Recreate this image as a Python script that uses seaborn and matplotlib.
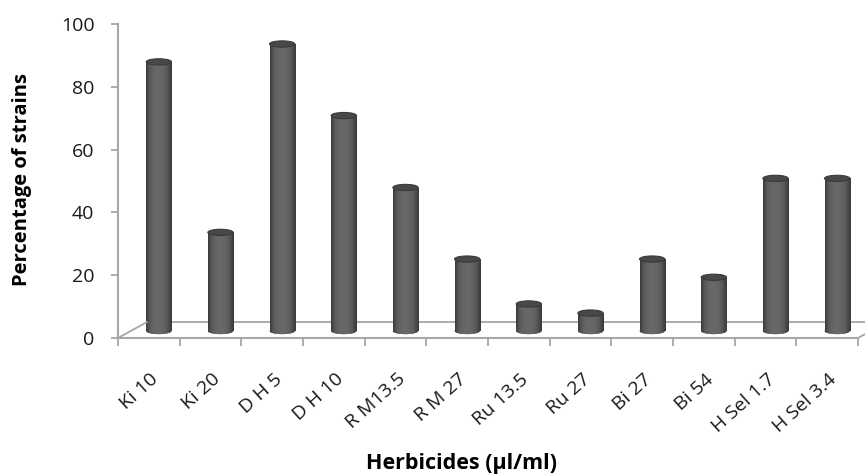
import numpy as np
import pandas as pd
import matplotlib
matplotlib.use("Agg")
import matplotlib.pyplot as plt
import matplotlib.transforms as mtransforms
from matplotlib.patches import Ellipse
import seaborn as sns

# Share of strains tolerant to each herbicide concentration
herbicides = ["Ki 10", "Ki 20", "D H 5", "D H 10", "R M13.5", "R M 27",
              "Ru 13.5", "Ru 27", "Bi 27", "Bi 54", "H Sel 1.7", "H Sel 3.4"]
percent_strains = [85.7, 31.4, 91.4, 68.6, 45.7, 22.9, 8.6, 5.7, 22.9, 17.1, 48.6, 48.6]
y_ticks = [0, 20, 40, 60, 80, 100]

df = pd.DataFrame({"herbicide": herbicides, "percent": percent_strains})

sns.set_theme(style="white")
plt.rcParams["font.family"] = ["Open Sans", "DejaVu Sans"]

W, H, DPI = 865, 474, 100
fig = plt.figure(figsize=(W / DPI, H / DPI), dpi=DPI)
fig.patch.set_facecolor("white")

# axes frame in pixel units (left, right, bottom-of-plot, top-of-plot)
x_left, x_right, y_zero, y_top = 118, 858, 338, 24
ax = fig.add_axes([x_left / W, (H - y_zero) / H,
                   (x_right - x_left) / W, (y_zero - y_top) / H])

sns.barplot(data=df, x="herbicide", y="percent", color="#5e5e5e",
            width=0.41, ax=ax, saturation=1)

axis_grey = "#a6a6a6"
# 3D pseudo-depth: columns sit halfway back on the floor
mid_depth = mtransforms.ScaledTranslation(10 / DPI, 7 / DPI, fig.dpi_scale_trans)
back = mtransforms.ScaledTranslation(29 / DPI, 16 / DPI, fig.dpi_scale_trans)
bar_trans = ax.transData + mid_depth

# horizontal shading across a cylinder
shade = np.array([0.0, 0.55, 0.82, 0.93, 1.0, 1.0, 0.96, 0.88, 0.7, 0.35, 0.0])
xs = np.linspace(0, 1, 400)
prof = np.interp(xs, np.linspace(0, 1, len(shade)), shade)
dark, light = np.array([0x38, 0x38, 0x38]) / 255, np.array([0x68, 0x68, 0x68]) / 255
grad = (dark[None, :] + (light - dark)[None, :] * prof[:, None])[None, :, :]

cap_h = 2.0  # ellipse height in data units
for p in list(ax.patches):
    x0, w, h = p.get_x(), p.get_width(), p.get_height()
    cx = x0 + w / 2
    p.set_transform(bar_trans)
    p.set_edgecolor("none")
    p.set_zorder(2)
    base = Ellipse((cx, 0), w, cap_h, transform=bar_trans,
                   facecolor="#5e5e5e", edgecolor="none", zorder=2)
    ax.add_patch(base)
    for clip in (p, base):
        im = ax.imshow(grad, extent=(x0, x0 + w, -cap_h, h), aspect="auto",
                       interpolation="bicubic", zorder=3)
        im.set_transform(bar_trans)
        im.set_clip_path(clip)
    top = Ellipse((cx, h), w, cap_h, transform=bar_trans,
                  facecolor="#484848", edgecolor="#3a3a3a", linewidth=0.8,
                  zorder=4)
    ax.add_patch(top)

ax.set_xlim(-0.5, len(herbicides) - 0.5)
ax.set_ylim(0, 100)

# floor outline behind the columns
n = len(herbicides)
floor_trans = ax.transData + back
ax.plot([-0.5, n - 0.5], [0, 0], color=axis_grey, lw=1.3, transform=floor_trans,
        clip_on=False, zorder=1)
for xe in (-0.5, n - 0.5):
    # diagonal edge joining front axis and back floor line
    p_front = ax.transData.transform((xe, 0))
    p_back = floor_trans.transform((xe, 0))
    fig.add_artist(plt.Line2D([p_front[0], p_back[0]], [p_front[1], p_back[1]],
                              transform=None, color=axis_grey, lw=1.3))

for side in ("top", "right"):
    ax.spines[side].set_visible(False)
for side in ("left", "bottom"):
    ax.spines[side].set_color(axis_grey)
    ax.spines[side].set_linewidth(1.5)

ax.set_yticks(y_ticks)
ax.set_yticklabels([str(t) for t in y_ticks])
ax.tick_params(axis="y", which="major", direction="out", length=5, width=1.3,
               color=axis_grey, pad=12, labelsize=14, labelcolor="#1a1a1a", left=True)

ax.set_xticks(np.arange(-0.5, n, 1.0), minor=False)
ax.set_xticklabels([])
ax.set_xticks(np.arange(n), minor=True)
ax.set_xticklabels(herbicides, minor=True)
ax.tick_params(axis="x", which="major", direction="out", length=6, width=1.3,
               color=axis_grey, bottom=True)
ax.tick_params(axis="x", which="minor", length=0, pad=28, labelsize=14,
               labelcolor="#1a1a1a")
label_shift = mtransforms.ScaledTranslation(7 / DPI, 0, fig.dpi_scale_trans)
for lab in ax.get_xticklabels(minor=True):
    lab.set_rotation(42)
    lab.set_ha("right")
    lab.set_va("center")
    lab.set_rotation_mode("anchor")
    lab.set_transform(lab.get_transform() + label_shift)

ax.set_xlabel("")
ax.set_ylabel("")
fig.text(22 / W, 1 - 180 / H, "Percentage of strains", rotation=90,
         ha="center", va="center", fontsize=14.5, fontweight="bold", color="black")
fig.text(462 / W, 1 - 463 / H, "Herbicides (\u00b5l/ml)", ha="center",
         va="center", fontsize=15.5, fontweight="bold", color="black")

fig.savefig("out.png", dpi=DPI, facecolor="white")
